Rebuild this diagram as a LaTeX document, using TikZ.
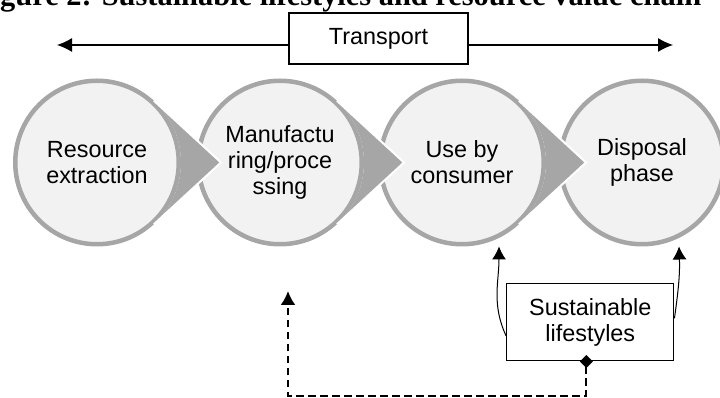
\documentclass[tikz,border=0pt]{standalone}
\usepackage{fontspec}
\setmainfont{Liberation Sans}
\newfontfamily\titlefont{Liberation Serif}
\usetikzlibrary{calc,arrows.meta}
\definecolor{ringgray}{HTML}{A6A6A6}
\definecolor{stagefill}{HTML}{F2F2F2}

\begin{document}
\begin{tikzpicture}[x=1pt, y=1pt,
	stage/.style={shape=circle, draw=ringgray, fill=stagefill, line width=4.5pt, minimum size=163.5pt, inner sep=0pt, align=center, font=\fontsize{23.4}{26}\selectfont},
	infobox/.style={shape=rectangle, draw, line width=1.3pt, align=center, font=\fontsize{23.4}{26}\selectfont},
	tarrow/.style={line width=1.2pt, -{Latex[length=15pt, width=14pt]}},
	larrow/.style={line width=1pt, -{Latex[length=13pt, width=14pt]}},
	fback/.style={line width=2.2pt, dash pattern=on 7.5pt off 4.5pt, {Diamond[length=13pt, width=13pt]}-{Latex[length=14pt, width=15pt]}}]	% Paths, nodes and wires:
			\useasboundingbox (0, 0) rectangle (720, 398);
			\node[anchor=base west, inner sep=0pt, font=\titlefont\bfseries\fontsize{30.4}{34}\selectfont] (title) at (-27, 392){Figure 2: Sustainable lifestyles and resource value chain};
			\node[infobox, minimum width=179pt, minimum height=51pt] (trans) at (378.5, 359.5){Transport};
			\coordinate (tleft) at (57, 353);
			\coordinate (tright) at (673, 353);
			\draw[tarrow] ([yshift=-6.5pt]trans.west) -- (tleft);
			\draw[tarrow] ([yshift=-6.5pt]trans.east) -- (tright);
			\node[stage] (res) at (97, 235.5){Resource\\extraction};
			\node[stage] (mfg) at (280, 235.5){Manufactu\\ring/proce\\ssing};
			\node[stage] (use) at (462, 235.5){Use by\\consumer};
			\node[stage] (disp) at (642, 235.5){Disposal\\phase};
			\foreach \a in {res, mfg, use}{
				\fill[ringgray] ($(\a.center)+(47.4:84)$) -- ($(\a.center)+(124, 0)$) -- ($(\a.center)+(-47.4:84)$) arc[start angle=-47.4, end angle=47.4, radius=84] -- cycle;
				\draw[white, line width=2pt] ($(\a.center)+(47.4:84)$) -- ($(\a.center)+(124, 0)$) -- ($(\a.center)+(-47.4:84)$);
			}
			\node[infobox, minimum width=167pt, minimum height=77pt] (life) at (590.3, 75.7){Sustainable\\lifestyles};
			\draw[larrow] ([yshift=-13.7pt]life.west) to[out=115, in=-90] ([xshift=37pt]use.south);
			\draw[larrow] ([yshift=4pt]life.east) to[out=82, in=-88] ([xshift=37pt]disp.south);
			\coordinate (fbcorner) at (288, 2.3);
			\coordinate (feedback) at (288, 107);
			\draw[fback] ([xshift=-4pt, yshift=6.5pt]life.south) |- (fbcorner) -- (feedback);
		\end{tikzpicture}
\end{document}
